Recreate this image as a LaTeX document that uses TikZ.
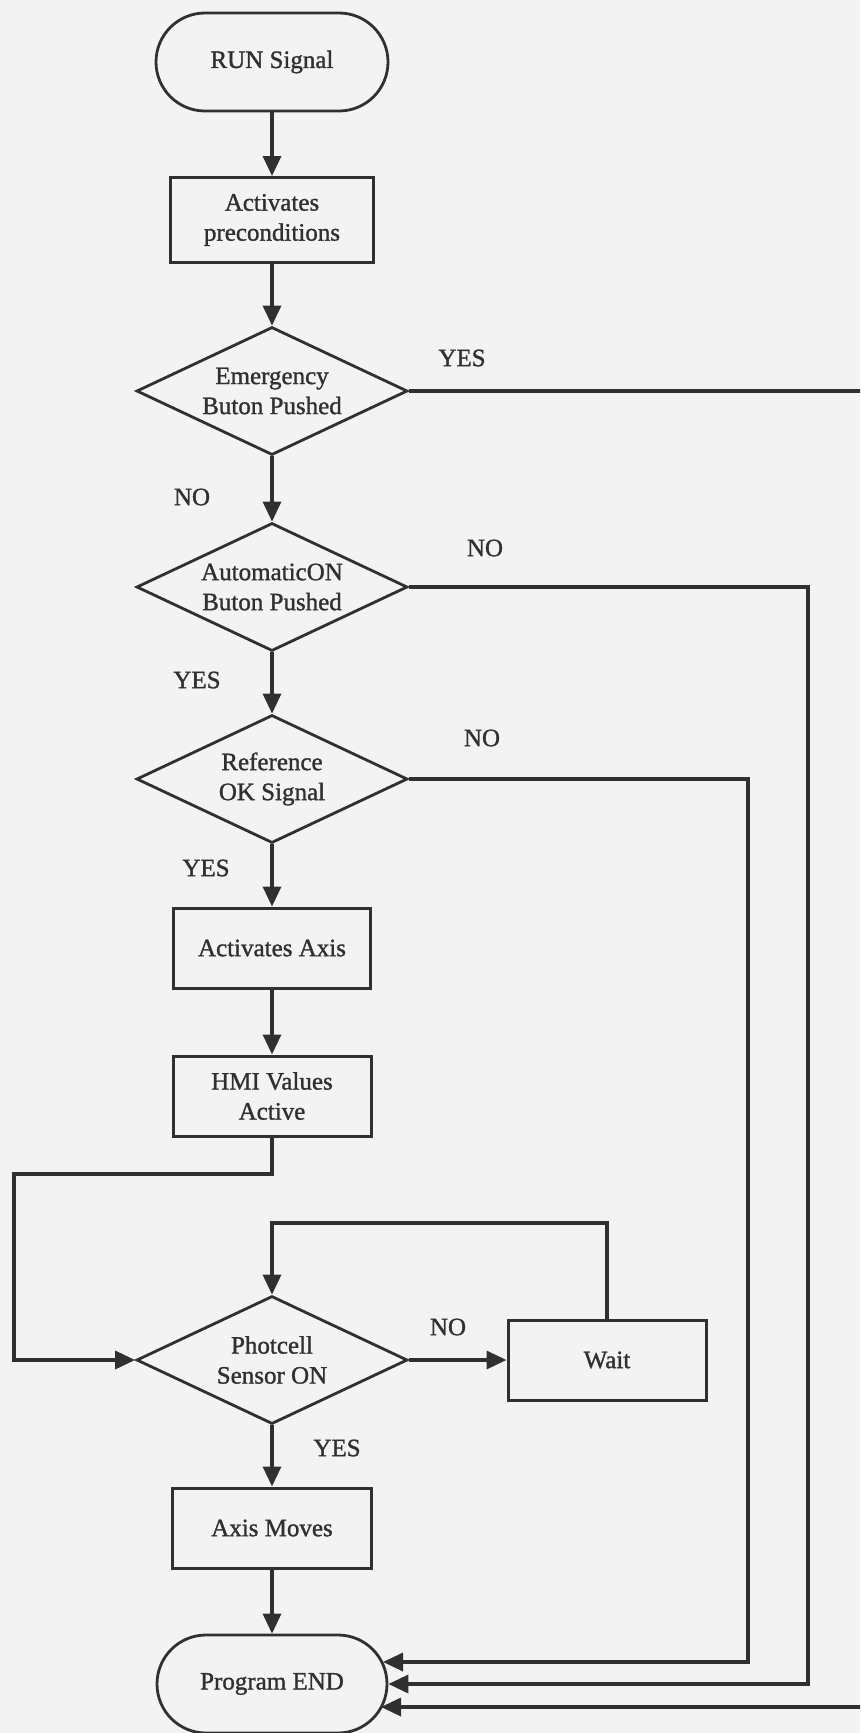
\documentclass[tikz,border=0pt]{standalone}
\usepackage{fontspec}
\setmainfont{Liberation Serif}[RawFeature={embolden=1.2}]
\usetikzlibrary{shapes.geometric,shapes.misc,arrows.meta}
\definecolor{ink}{RGB}{48,48,48}
\definecolor{paper}{RGB}{243,243,243}
\begin{document}
\begin{tikzpicture}[x=1pt,y=-1pt,
  every node/.style={font=\fontsize{25}{30}\selectfont, text=ink},
  flow/.style={draw=ink, line width=3.4pt, -{Triangle[length=20pt,width=18pt]}},
  terminal/.style={rounded rectangle, draw=ink, line width=2.8pt,
    minimum width=232pt, minimum height=98pt, inner sep=0pt, align=center},
  process/.style={rectangle, draw=ink, line width=3pt,
    minimum width=200pt, minimum height=80pt, inner sep=0pt, align=center},
  decision/.style={diamond, aspect=2.1, draw=ink, line width=2.8pt,
    minimum width=271pt, minimum height=128pt, inner sep=0pt, align=center},
  tag/.style={inner sep=0pt}
]
\useasboundingbox (0,0) rectangle (860,1733);
\clip (0,0) rectangle (860,1733);
\fill[paper] (0,0) rectangle (860,1733);

% main column
\node[terminal] (run) at (272,62) {RUN Signal};
\node[process, minimum width=203pt, minimum height=85pt] (pre) at (272,220) {Activates\\preconditions};
\node[decision] (emg) at (272,391) {Emergency\\Buton Pushed};
\node[decision] (auto) at (272,587) {AutomaticON\\Buton Pushed};
\node[decision] (ref) at (272,779) {Reference\\OK Signal};
\node[process, minimum width=197pt] (axis) at (272,948) {Activates Axis};
\node[process, minimum width=198pt] (hmi) at (272,1096) {HMI Values\\Active};
\node[decision] (photo) at (272,1360) {Photcell\\Sensor ON};
\node[process, minimum width=198pt] (wait) at (607,1360) {Wait};
\node[process, minimum width=199pt] (moves) at (272,1528) {Axis Moves};
\node[terminal, minimum width=230pt] (stop) at (272,1684) {Program END};

% branch labels
\node[tag] (l1) at (462,358) {YES};
\node[tag] (l2) at (192,497) {NO};
\node[tag] (l3) at (485,548) {NO};
\node[tag] (l4) at (197,680) {YES};
\node[tag] (l5) at (482,738) {NO};
\node[tag] (l6) at (206,868) {YES};
\node[tag] (l7) at (448,1327) {NO};
\node[tag] (l8) at (337,1448) {YES};

% helper points for routed connectors
\coordinate (h1) at (272,1174);
\coordinate (h2) at (14,1174);
\coordinate (loop) at (607,1223);
\coordinate (r2) at (748,1662);
\coordinate (a2) at (808,1684);
\coordinate (e2) at (900,1707);
\coordinate (in1) at (383,1662);
\coordinate (in3) at (381,1707);

% straight flow
\draw[flow] (run) -- (pre);
\draw[flow] (pre) -- (emg);
\draw[flow] (emg) -- (auto);
\draw[flow] (auto) -- (ref);
\draw[flow] (ref) -- (axis);
\draw[flow] (axis) -- (hmi);
\draw[flow] (hmi.south) -- (h1) -- (h2) |- (photo.west);
\draw[flow] (photo.east) -- (wait.west);
\draw[flow] (wait.north) -- (loop) -| (photo.north);
\draw[flow] (photo) -- (moves);
\draw[flow] (moves) -- (stop);

% exits to program end
\draw[flow] (ref.east) -| (r2) -- (in1);
\draw[flow] (auto.east) -| (a2) -- (stop.east);
\draw[flow] (emg.east) -| (e2) -- (in3);
\end{tikzpicture}
\end{document}
